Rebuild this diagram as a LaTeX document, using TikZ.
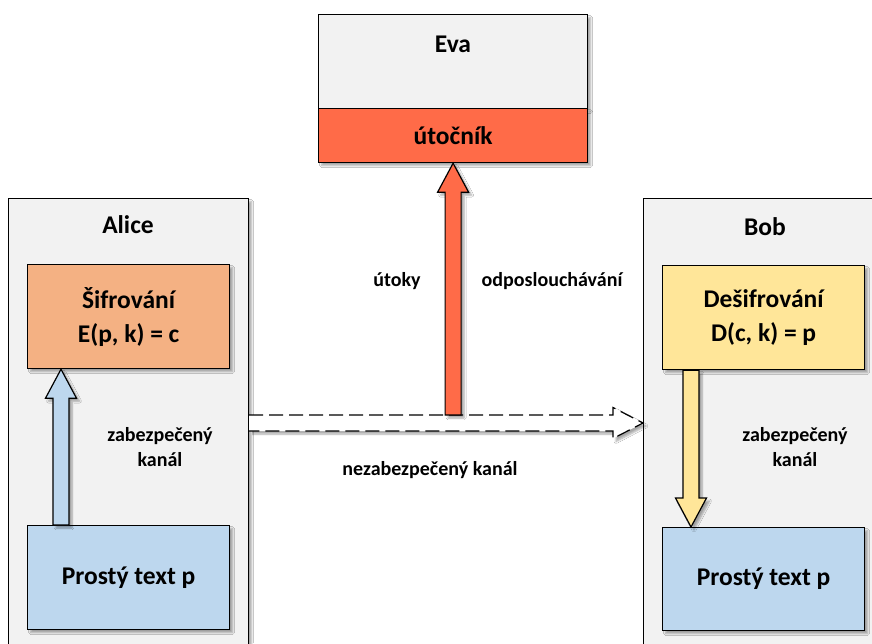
\documentclass[tikz,border=0pt]{standalone}
\usepackage{fontspec}
\setmainfont{Carlito}
\usetikzlibrary{calc,shadows.blur}
\definecolor{paneGray}{HTML}{F2F2F2}
\definecolor{encOrange}{HTML}{F4B183}
\definecolor{paleBlue}{HTML}{BDD7EE}
\definecolor{decYellow}{HTML}{FFE699}
\definecolor{evilRed}{HTML}{FF6B48}
\tikzset{
  soft shadow/.style={blur shadow={shadow xshift=3pt, shadow yshift=-3pt, shadow blur steps=6, shadow opacity=35}},
  box/.style={draw=black, line width=1.2pt, anchor=north west, inner sep=0pt, align=center, soft shadow},
  party/.style={box, fill=paneGray, minimum height=480pt},
  big/.style={font=\fontsize{25.5}{34}\selectfont\bfseries},
  small/.style={font=\fontsize{20}{25}\selectfont\bfseries, align=center},
  blockline/.style={draw=black, line width=1.2pt, soft shadow},
  channel/.style={draw=black, line width=1.2pt, dash pattern=on 14pt off 6pt, fill=white, soft shadow}
}
% vertical block arrow: start, tip, fill
\newcommand{\blockarrow}[3]{%
  \path[blockline, fill=#3] let \p1=#1, \p2=#2, \n1={sign(\y2-\y1)} in
    ({\x1-8pt},\y1) -- ({\x1-8pt},{\y2-29pt*(\n1)}) -- ({\x1-15.5pt},{\y2-29pt*(\n1)}) --
    (\x1,\y2) -- ({\x1+15.5pt},{\y2-29pt*(\n1)}) -- ({\x1+8pt},{\y2-29pt*(\n1)}) --
    ({\x1+8pt},\y1) -- cycle;}

\begin{document}
\begin{tikzpicture}[x=1pt,y=-1pt]
  \useasboundingbox (0,0) rectangle (872,643);
  \fill[white] (0,0) rectangle (872,643);

  % the two parties
  \node[party, minimum width=240pt] (alice) at (8,198) {};
  \node[party, minimum width=250pt] (bob) at (643,198) {};

  % insecure channel
  \path[channel] let \p1=(alice.east |- 0,423), \p2=(bob.west |- 0,423) in
    (\x1,{\y1+8pt}) -- ({\x2-30pt},{\y1+8pt}) -- ({\x2-30pt},{\y1+15.5pt}) --
    (\x2,\y1) -- ({\x2-30pt},{\y1-15.5pt}) -- ({\x2-30pt},{\y1-8pt}) -- (\x1,{\y1-8pt});

  % Eva
  \node[box, fill=paneGray, minimum width=269pt, minimum height=94pt] (evaTop) at (318,14) {};
  \node[box, fill=evilRed, minimum width=269pt, minimum height=54pt, big] (evaBot) at (318,108) {útočník};
  \node[big] (evaT) at (453,44) {Eva};

  % Alice
  \node[big] (aliceT) at (128,225) {Alice};
  \node[box, fill=encOrange, minimum width=202pt, minimum height=104pt, big] (encA) at (27,264) {Šifrování\\E(p, k) = c};
  \node[box, fill=paleBlue, minimum width=202pt, minimum height=104pt, big] (plainA) at (27,525) {Prostý text p};
  \blockarrow{($(plainA.north west)+(34,0)$)}{($(encA.south west)+(34,0)$)}{paleBlue}
  \node[small] (secA) at (160,447) {zabezpečený\\kanál};

  % Bob
  \node[big] (bobT) at (765,227) {Bob};
  \node[box, fill=decYellow, minimum width=202pt, minimum height=104pt, big] (decB) at (662,265) {Dešifrování\\D(c, k) = p};
  \node[box, fill=paleBlue, minimum width=202pt, minimum height=103pt, big] (plainB) at (662,527) {Prostý text p};
  \blockarrow{($(decB.south west)+(29,0)$)}{($(plainB.north west)+(29,0)$)}{decYellow}
  \node[small] (secB) at (795,447) {zabezpečený\\kanál};

  % eavesdropping
  \blockarrow{(evaBot.south |- 0,415)}{(evaBot.south)}{evilRed}
  \node[small] (attack) at (397,281) {útoky};
  \node[small] (listen) at (552,281) {odposlouchávání};
  \node[small] (insec) at (430,470) {nezabezpečený kanál};
\end{tikzpicture}
\end{document}
